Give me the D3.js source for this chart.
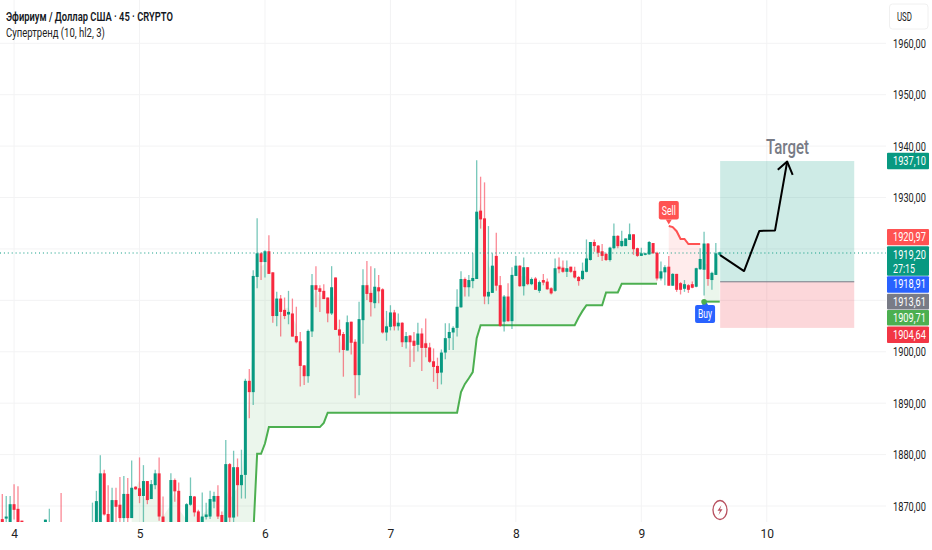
<!DOCTYPE html>
<meta charset="utf-8">
<body style="margin:0;background:#fff;">
<svg width="932" height="550"></svg>
</body>
<script src="https://cdn.jsdelivr.net/npm/d3@7"></script>
<script>
// 45m bars, index 0 is the first bar at the left edge; null = bar sits below the visible pane
const opens = [
  1867.3,1867.4,1865,1870.2,1869.3,1867,null,null,null,null,
  null,1865,1864.5,null,null,1865,null,null,null,null,
  null,null,null,1864,1865,1865,1876.2,1868.3,1865,1871,
  1870.1,1867.5,1872.2,1867.5,1873.6,1873.3,1871.8,1874.7,1871.2,1873.9,
  1876.2,1867.8,null,1865,1874.9,1872.8,null,1865,1870.1,1871.7,
  1868.8,1865,1867.7,1867.8,1870.7,1871.8,1868.1,1865,1878,1867.6,
  1877.4,1873.9,1875.9,1894.2,1892,1914.4,1919,1917.3,1919.4,1915.3,
  1906.8,1910.2,1908,1907.1,1907.3,1902.9,1901.9,1897.2,1895.1,1903.8,
  1912.8,1912.2,1911.7,1910.4,1907.3,1914.3,1904.2,1903.3,1900.1,1905.7,
  1901.8,1895.3,1906,1912.8,1911.3,1909.3,1912.4,1912,1903.6,1904.7,
  1907.5,1904.8,1905.5,1901.7,1903,1902,1901.2,1903.4,1901.5,1900.7,
  1898,1897.1,1895.8,1899.7,1902.5,1903.6,1904.5,1908.5,1914,1912.4,
  1913.6,1914,1927.3,1925.8,1910.6,1911.3,1918.5,1912.8,1905.7,1910.6,
  1905.8,1914.6,1916.6,1912.6,1916.3,1913,1914.1,1911.7,1913.8,1913.5,
  1912.2,1911.7,1916.4,1916.2,1915.4,1916.4,1915.6,1914.4,1914,1915.4,
  1917.7,1921.2,1920.5,1919.4,1918.9,1917.7,1920,1922.4,1920.4,1920.4,
  1921.6,1922.7,1920,1918.5,1918.7,1918.8,1921,1919.1,1914.1,1915.3,
  1916.4,1912.7,1915,1913.2,1912.1,1912.8,1913,1912.5,1915.9,1915.8,
  1920.9,1913.8,1914.8,1918.7
];
const closes = [
  1865,1867.8,1870.2,1869.1,1865,1865,null,null,null,null,
  null,1867.2,1865.5,null,null,1864,null,null,null,null,
  null,null,null,1865,1870.8,1876.2,1868.2,1865,1871,1869.7,
  1867.5,1872.2,1867.5,1873.4,1873.1,1871.8,1874.7,1871,1874.1,1876.2,
  1867.8,1865,null,1874.9,1872.7,1865,null,1870.2,1871.8,1868.6,
  1865,1867.8,1868.2,1871.2,1871.8,1867.8,1865,1878,1867.6,1877.4,
  1873.9,1875.9,1894.2,1892,1914.6,1919,1917.3,1919.4,1915,1906.8,
  1910.2,1907.6,1906.8,1907.6,1902.8,1901.7,1897.1,1895.1,1903.9,1912.8,
  1911.9,1911.5,1910.1,1907.3,1912.4,1904.1,1903,1900.2,1905.6,1901.6,
  1895.3,1906.2,1912.8,1911.1,1909.5,1912.5,1911.6,1903.6,1904.8,1907.5,
  1904.8,1905.5,1901.7,1902.9,1901.7,1901,1903.4,1900.6,1900.6,1897.9,
  1896.9,1895.7,1899.7,1902.5,1903.7,1904.5,1908.6,1914,1912.4,1913.8,
  1914.2,1927.1,1925.6,1910.6,1911.5,1916.6,1912.7,1904.9,1910.6,1905.8,
  1914.8,1916.6,1912.6,1916.3,1913,1914,1911.9,1913.4,1913.3,1912,
  1911.2,1916.1,1915.9,1915.4,1916.1,1915.4,1914.3,1913.6,1915.6,1918,
  1921.2,1920.4,1919.1,1918.5,1917.7,1920.1,1922.4,1920.4,1921.4,1921.9,
  1922.7,1919.8,1918.5,1919,1919,1921.2,1919,1914.1,1915.5,1916.3,
  1912.7,1915,1911.9,1911.9,1913,1911.9,1912.3,1916.1,1917.9,1920.9,
  1914,1915.2,1919,1919.2
];
const highs = [
  1872.2,1871.8,1871.8,1874.1,1873.7,1867,null,null,null,null,
  null,1867.2,1869.3,null,null,1872.4,null,null,null,null,
  null,null,null,1870.5,1872.8,1879.7,1876.9,1873.9,1873.4,1873.4,
  1875.5,1875.7,1875.3,1878.7,1873.7,1879.3,1877.8,1874.7,1874.9,1876.9,
  1879.3,1871.7,null,1876.2,1875.2,1874.4,null,1870.4,1875.4,1871.8,
  1869.1,1872.5,1870.5,1872.8,1872.6,1873.9,1868.8,1882.7,1878.2,1880.6,
  1879.1,1880.8,1894.6,1896.5,1915.7,1925.8,1919.2,1919.6,1922.5,1915.3,
  1911.5,1910.9,1910.4,1911.7,1910.2,1908.6,1903.7,1897.3,1904.2,1915,
  1916.5,1912.8,1913,1910.4,1916.5,1914.3,1906.1,1903.7,1906.9,1905.7,
  1902.3,1909.6,1915.9,1917.5,1916.5,1916.1,1914.8,1912.2,1907.8,1908.9,
  1908,1907.3,1905.6,1903.7,1903.1,1903.7,1905.5,1904.4,1906.3,1901.6,
  1900.5,1898.7,1900.3,1905.4,1905.4,1904.8,1912,1915.5,1914.3,1914.8,
  1919,1937.1,1933.9,1932.8,1924.3,1919,1923,1914.6,1910.9,1913.2,
  1916.3,1918.5,1916.7,1918.2,1916.3,1914.3,1914.4,1913.7,1915,1914.1,
  1912.4,1918,1918.2,1917.6,1917.6,1916.4,1916.4,1914.6,1917.2,1921.7,
  1921.2,1921.7,1920.6,1920.8,1919.1,1920.3,1924.8,1922.5,1923.4,1921.9,
  1924.8,1922.7,1920.1,1920.1,1919.1,1921.4,1921,1919.3,1917.4,1916.7,
  1918.5,1915.1,1915,1913.4,1913.8,1913,1913.5,1916.2,1920,1923.2,
  1921,1915.4,1921,1919.3
];
const lows = [
  1864,1864,1864,1867.2,1864,1864,null,null,null,null,
  null,1864,1864,null,null,1863,null,null,null,null,
  null,null,null,1863,1864,1864,1868,1864,1864,1864,
  1866,1864,1864,1867.5,1873,1870.4,1864,1870.2,1871.2,1873.1,
  1867,1864,null,1864,1870.7,1864,null,1864,1869.9,1867.8,
  1864,1864,1867.2,1867.3,1869.4,1867.3,1864,1864,1864,1864,
  1867.8,1871.3,1871.3,1886.9,1889.5,1912.2,1913.8,1914.3,1915,1905.5,
  1904.8,1902.8,1906.2,1905.2,1902.8,1901.5,1893.1,1893.4,1893.8,1902.7,
  1908.5,1907.6,1910.1,1905.6,1907,1904.1,1899.7,1895,1900.1,1899.3,
  1890.8,1891.4,1901.4,1909.9,1906.7,1908.3,1909.3,1903.4,1902,1904,
  1904,1904,1900.8,1900.5,1896.9,1897.9,1899.9,1896.1,1898.8,1897.7,
  1894,1892.6,1893.5,1898.4,1900.2,1900.2,1902.8,1908.4,1910.6,1910.6,
  1912.2,1914,1923.8,1909.1,1909.1,1911.3,1911.7,1904.7,1903.8,1905.7,
  1904.3,1914.6,1912.5,1910.8,1912.8,1912.8,1911.9,1911.3,1912.8,1911.9,
  1911,1911.5,1915.1,1915.2,1914.4,1915.2,1914.1,1912.7,1913.8,1915.3,
  1917.6,1919.3,1918.3,1917.5,1917.5,1917.4,1919.8,1920,1920.3,1920.4,
  1921.6,1918.7,1918.3,1918.5,1918.6,1918.7,1918.9,1913.7,1913.7,1912.8,
  1912.7,1912.7,1911.5,1911,1911.5,1911.3,1912.2,1912.4,1915.8,1910.8,
  1912.7,1911.9,1914.8,1918.5
];

// supertrend, one value per bar, first bar given by the *Start constant
// (before bar 64 the line runs under the pane, only its fill shows)
const upTrendStart = 33;
const upTrend = [
  1860,1860,1860,1860,1860,1860,1860,1860,1860,1860,
  1860,1860,1860,1860,1860,1860,1860,1860,1860,1860,
  1860,1860,1860,1860,1860,1860,1860,1860,1860,1860,
  1860,
  1864,1880,1880,1882,1885.2,1885.2,1885.2,1885.2,1885.2,1885.2,
  1885.2,1885.2,1885.2,1885.2,1885.2,1885.2,1885.2,1885.2,1886,1888,
  1888,1888,1888,1888,1888,1888,1888,1888,1888,1888,
  1888,1888,1888,1888,1888,1888,1888,1888,1888,1888,
  1888,1888,1888,1888,1888,1888,1888,1888,1888,1888,
  1888,1888,1888,1892,1893.6,1894.7,1895.9,1902.5,1905,1905,
  1905,1905,1905,1905,1905,1905,1905,1905,1905,1905,
  1905,1905,1905,1905,1905,1905,1905,1905,1905,1905,
  1905,1905,1905,1906.5,1907.8,1908.9,1908.9,1908.9,1908.9,1908.9,
  1911.4,1911.4,1911.4,1911.4,1913.1,1913.1,1913.1,1913.1,1913.1,1913.1,
  1913.1,1913.1,1913.1,1913.1
];
const downTrendStart = 170;
const downTrend = [1924.3,1924.1,1923.3,1921.8,1921.8,1920.8,1920.8,1920.8,1920.8];
const lastTrendStart = 179;
const lastTrend = [1909.6,1909.6,1909.6,1909.6,1909.6];

const dayTicks = [3, 35, 67, 99, 131, 163, 195];
const dayLabels = ["4", "5", "6", "7", "8", "9", "10"];
const priceTicks = [1960, 1950, 1940, 1930, 1920, 1910, 1900, 1890, 1880, 1870];
// 1920 and 1910 sit behind the price boxes, so they have no label
const priceLabels = [1960, 1950, 1940, 1930, 1900, 1890, 1880, 1870];

// long position tool and the hand drawn arrow
const positionBars = [183.1, 217.3];
const targetPrice = 1937.1, entryPrice = 1913.61, stopPrice = 1904.64;
const arrowBars = [183.1, 189.2, 193.1, 197.1, 200.2];
const arrowPrices = [1918.8, 1915.7, 1923.5, 1923.6, 1937];
const arrowHeadBars = [197.8, 200.2, 201.6];
const arrowHeadPrices = [1935.4, 1937, 1934.4];

const priceBoxes = [
  { text: ["1937,10"], fill: "#089981", top: 1938.7, bottom: 1935.5 },
  { text: ["1920,97"], fill: "#ff5252", top: 1923.9, bottom: 1920.7 },
  { text: ["1919,20", "27:15"], fill: "#089981", top: 1920.5, bottom: 1914.8 },
  { text: ["1918,91"], fill: "#2962ff", top: 1914.7, bottom: 1911.5 },
  { text: ["1913,61"], fill: "#787b86", top: 1911.3, bottom: 1908.2 },
  { text: ["1909,71"], fill: "#4caf50", top: 1908.1, bottom: 1905.1 },
  { text: ["1904,64"], fill: "#f23645", top: 1904.9, bottom: 1901.7 }
];

const font = "'Roboto', 'Liberation Sans', sans-serif";
const green = "#089981", red = "#f7283e";
const paneRight = 886, paneBottom = 522;
// readings were taken against a baseline about a pixel high
const readBias = 0.15;

let svg = d3.select("svg").style("font-family", font);
let x = d3.scaleLinear().domain([0, 195]).range([2.3, 766.8]);
let y = d3.scaleLinear().domain([1960, 1870]).range([43.3, 506]);

// the source picture is squeezed sideways, so texts get scaled to a fixed width
let squeeze = (sel, w) => sel.each(function () {
  let t = d3.select(this), x0 = +t.attr("x") || 0, k = w / this.getComputedTextLength();
  t.attr("transform", `translate(${x0 * (1 - k)},0) scale(${k},1)`);
});

svg.append("clipPath").attr("id", "pane")
  .append("rect").attr("width", paneRight).attr("height", paneBottom);

// grid
let grid = svg.append("g").attr("stroke", "#f3f3f4").attr("stroke-width", 1);
grid.selectAll(".h").data(priceTicks).join("line")
  .attr("x1", 0).attr("x2", paneRight)
  .attr("y1", d => y(d)).attr("y2", d => y(d));
grid.selectAll(".v").data(dayTicks).join("line")
  .attr("x1", d => x(d)).attr("x2", d => x(d))
  .attr("y1", 0).attr("y2", paneBottom);

let pane = svg.append("g").attr("clip-path", "url(#pane)");

let bars = opens.map((o, i) => ({ i, o, c: closes[i], h: highs[i], l: lows[i] }));
let hl2 = i => (highs[i] + lows[i]) / 2;
let trendRows = (values, start) => values
  .map((v, k) => ({ i: start + k, v: v + readBias }))
  .filter(d => highs[d.i] != null);

let trendArea = d3.area()
  .x(d => x(d.i))
  .y0(d => y(d.v))
  .y1(d => y(hl2(d.i) + readBias));
let trendLine = d3.line().x(d => x(d.i)).y(d => y(d.v));

let trends = [
  { rows: trendRows(upTrend, upTrendStart), line: "#4caf50", fill: "rgba(76,175,80,0.11)" },
  { rows: trendRows(downTrend, downTrendStart), line: "#ff5252", fill: "rgba(255,82,82,0.11)" },
  { rows: trendRows(lastTrend, lastTrendStart), line: "#4caf50", fill: "rgba(76,175,80,0.11)" }
];
pane.selectAll(".fill").data(trends).join("path")
  .attr("d", d => trendArea(d.rows)).attr("fill", d => d.fill);
pane.selectAll(".trend").data(trends).join("path")
  .attr("d", d => trendLine(d.rows))
  .attr("fill", "none").attr("stroke", d => d.line).attr("stroke-width", 2);

// dotted last price line
svg.append("line")
  .attr("x1", 0).attr("x2", paneRight)
  .attr("y1", y(1919.2)).attr("y2", y(1919.2))
  .attr("stroke", "#089981").attr("stroke-dasharray", "1 2.9").attr("stroke-width", 1.1);

// candles
let candles = pane.append("g");
let shown = bars.filter(d => d.o != null);
candles.selectAll(".wick").data(shown).join("line")
  .attr("x1", d => x(d.i)).attr("x2", d => x(d.i))
  .attr("y1", d => y(d.h + readBias)).attr("y2", d => y(d.l + readBias))
  .attr("stroke", d => d.c >= d.o ? green : red)
  .attr("stroke-opacity", 0.55).attr("stroke-width", 1.3);
candles.selectAll(".body").data(shown).join("rect")
  .attr("x", d => x(d.i) - 1.5).attr("width", 3)
  .attr("y", d => y(Math.max(d.o, d.c) + readBias))
  .attr("height", d => Math.max(1, Math.abs(y(d.o) - y(d.c))))
  .attr("fill", d => d.c >= d.o ? green : red);

// position tool
let posX = x(positionBars[0]), posW = x(positionBars[1]) - posX;
svg.append("rect").attr("x", posX).attr("y", y(targetPrice)).attr("width", posW)
  .attr("height", y(entryPrice) - y(targetPrice)).attr("fill", "rgba(8,153,129,0.2)");
svg.append("rect").attr("x", posX).attr("y", y(entryPrice)).attr("width", posW)
  .attr("height", y(stopPrice) - y(entryPrice)).attr("fill", "rgba(242,54,69,0.2)");
svg.append("line").attr("x1", posX).attr("x2", posX + posW)
  .attr("y1", y(entryPrice)).attr("y2", y(entryPrice))
  .attr("stroke", "#787b86").attr("stroke-width", 1);

// arrow
let arrow = d3.line().x(d => x(d[0])).y(d => y(d[1]));
[d3.zip(arrowBars, arrowPrices), d3.zip(arrowHeadBars, arrowHeadPrices)].forEach(pts => {
  svg.append("path").attr("d", arrow(pts)).attr("fill", "none")
    .attr("stroke", "#000").attr("stroke-width", 2).attr("stroke-linejoin", "round");
});
svg.append("text").attr("x", 766).attr("y", 154)
  .attr("font-size", 20).attr("fill", "#787b86").attr("font-weight", 500).text("Target")
  .call(squeeze, 43);

// signal labels
let signal = (cx, top, h, fill, label, tipUp) => {
  let tipY = tipUp ? top : top + h;
  svg.append("path")
    .attr("d", `M${cx - 3},${tipY}L${cx},${tipY + (tipUp ? -5 : 5)}L${cx + 3},${tipY}Z`)
    .attr("fill", fill);
  svg.append("rect").attr("x", cx - 10).attr("y", top).attr("width", 20).attr("height", h)
    .attr("rx", 2).attr("fill", fill);
  svg.append("text").attr("x", cx - 7).attr("y", top + h / 2 + 4.5)
    .attr("font-size", 13).attr("fill", "#fff").text(label).call(squeeze, 14);
};
signal(x(170), 201, 18.5, "#ff5252", "Sell", false);
signal(x(179) + 1, 305, 18, "#2962ff", "Buy", true);
svg.append("circle").attr("cx", x(179)).attr("cy", y(1909.71)).attr("r", 2.8).attr("fill", "#4caf50");

// session icon
let icon = svg.append("g").attr("transform", "translate(720,510)");
icon.append("ellipse").attr("rx", 7).attr("ry", 9.5).attr("fill", "#fff")
  .attr("stroke", "#b8505f").attr("stroke-width", 1.3);
icon.append("path").attr("d", "M1.5,-5L-2.5,0.8H0L-1.5,5L2.5,-0.8H0Z").attr("fill", "#b8505f");

// axes
let yAxis = d3.axisRight(y).tickValues(priceLabels).tickSize(0).tickPadding(0)
  .tickFormat(d => d3.format(".2f")(d).replace(".", ","));
svg.append("g").attr("transform", "translate(893,0)").call(yAxis)
  .call(g => g.select(".domain").remove())
  .call(g => g.selectAll("text").attr("font-size", 13).attr("fill", "#222").style("font-family", font).call(squeeze, 33));
let xAxis = d3.axisBottom(x).tickValues(dayTicks).tickSize(0).tickPadding(0)
  .tickFormat((d, k) => dayLabels[k]);
svg.append("g").attr("transform", "translate(0,529)").call(xAxis)
  .call(g => g.select(".domain").remove())
  .call(g => g.selectAll("text").attr("font-size", 12).attr("fill", "#222").style("font-family", font));

// price boxes on the axis
priceBoxes.forEach(b => {
  let top = y(b.top), h = y(b.bottom) - top;
  svg.append("rect").attr("x", 887).attr("y", top).attr("width", 42).attr("height", h)
    .attr("rx", 1).attr("fill", b.fill);
  b.text.forEach((t, k) => {
    svg.append("text").attr("x", 893).attr("y", top + 12.3 + k * 14)
      .attr("font-size", 13).attr("fill", "#fff").text(t).call(squeeze, k ? 22 : 33);
  });
});

// currency button
svg.append("rect").attr("x", 889.5).attr("y", 4).attr("width", 38.5).attr("height", 25).attr("rx", 3)
  .attr("fill", "#fff").attr("stroke", "#f0f0f0");
svg.append("text").attr("x", 897).attr("y", 21).attr("font-size", 13).attr("fill", "#222").text("USD").call(squeeze, 15);

// legend
svg.append("text").attr("x", 6).attr("y", 21).attr("font-size", 13.5).attr("font-weight", 600)
  .attr("fill", "#131722").text("Эфириум / Доллар США · 45 · CRYPTO").call(squeeze, 167);
svg.append("text").attr("x", 6).attr("y", 37).attr("font-size", 13.5)
  .attr("fill", "#222").text("Супертренд (10, hl2, 3)").call(squeeze, 99);
</script>
